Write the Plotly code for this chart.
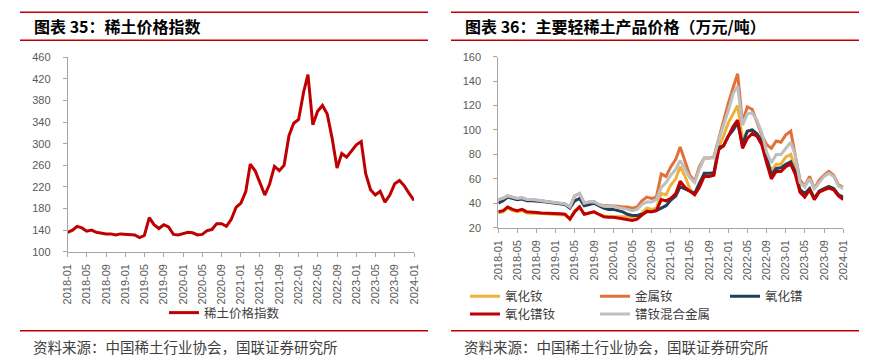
import plotly.graph_objects as go
import pandas as pd

# ---------------- data ----------------
months = pd.date_range("2018-01-01", "2024-01-01", freq="MS")
tick_dates = pd.date_range("2018-01-01", "2024-01-01", freq="4MS")

# 稀土价格指数 (monthly, 2018-01 .. 2024-01)
index_vals = [136, 140, 147, 144, 138, 140, 136, 134, 133, 133, 131, 133,
              132, 132, 131, 126, 130, 163, 150, 143, 150, 146, 132, 131,
              133, 136, 135, 131, 132, 139, 141, 152, 152, 147, 160, 182,
              190, 212, 262, 250, 228, 205, 225, 258, 250, 260, 315, 338,
              345, 395, 428, 335, 360, 371, 355, 310, 255, 282, 275, 286,
              298, 304, 245, 215, 205, 212, 192, 205, 226, 232, 222, 208, 195]

# 主要轻稀土产品价格（万元/吨）
nd_oxide = [32, 33, 36, 34, 33, 34, 32, 32, 32, 31.5, 31.5, 31,
            31, 31, 30.5, 27, 34, 37, 31, 32, 33, 31, 29.5, 29,
            29, 29, 29, 29, 28, 29, 32, 36, 35, 36, 48, 47,
            55, 60, 70, 62, 52, 47, 57, 63, 63, 64, 86, 95,
            106, 113, 120, 92, 99, 100, 96, 90, 75, 67, 72, 72,
            78, 80, 68, 52, 47, 52, 44, 50, 52, 54, 52, 47, 45]
nd_metal = [43, 44, 46, 45, 44, 44.5, 43, 43, 42.7, 42, 41.5, 41,
            40.5, 40, 39.5, 37, 46, 48, 40, 41, 41.3, 39, 38, 38,
            38, 37.5, 37, 37, 36, 37, 42, 45, 44, 45, 64, 62,
            70, 76, 86, 74, 63, 58, 70, 77, 77, 78, 93, 108,
            122, 135, 146, 106, 119, 117, 107, 96, 88, 85, 91, 90,
            96, 99, 80, 59, 54, 62, 52, 59, 63, 66, 63, 55, 53]
pr_oxide = [40, 42, 45, 44, 43, 43.5, 42, 42, 42, 41.5, 41, 40.5,
            40.5, 40, 39, 36, 42, 44, 38, 39, 40, 38, 36, 35,
            35, 34, 33, 31, 30, 30, 31, 33, 33, 34, 36, 38,
            42.7, 46, 53.6, 52, 50, 48, 56, 64.5, 64.5, 65, 86, 87,
            95, 100, 106, 88, 99, 100, 97, 91, 78, 63, 68.5, 69,
            72, 74, 66, 51, 48, 52, 44, 50, 52, 53.6, 52, 47, 45]
prnd_oxide = [33, 34, 37, 35, 34, 35, 33, 33, 32.5, 32, 32, 31.5,
              31.8, 31.5, 31, 27, 33, 37, 31, 32, 33, 31, 29, 28.5,
              28.6, 28, 27.5, 26.5, 26, 27, 30, 33.5, 33, 34, 43, 42,
              44, 48, 58, 53, 50, 47, 53, 62, 62, 63, 84, 87,
              95, 103, 108, 85, 93, 97, 95, 88, 73, 60, 66, 66,
              70, 72, 64, 49, 45, 51, 43, 49, 51, 52.5, 51, 46, 43]
prnd_metal = [43, 44, 46, 45, 44, 44.5, 43, 43, 42.7, 42, 41.5, 41,
              40.5, 40, 39.5, 37, 46, 48, 40, 41, 41.3, 39, 37.5, 37.3,
              37.3, 36.5, 36, 35, 34, 35, 39, 41, 41, 43, 53, 57,
              63, 68, 75, 68, 61, 57, 68, 77, 77, 77, 92, 103,
              116, 130, 136, 104, 113, 114, 108, 98, 82, 73, 80, 80,
              85, 90, 80, 57, 53.6, 60, 52, 57, 62, 64.5, 62, 54, 52]

left_yticks = [100, 140, 180, 220, 260, 300, 340, 380, 420, 460]
right_yticks = [20, 40, 60, 80, 100, 120, 140, 160]

series_right = [
    ("氧化钕", nd_oxide, "#EDB23A"),
    ("金属钕", nd_metal, "#E2703A"),
    ("氧化镨", pr_oxide, "#243F5C"),
    ("氧化镨钕", prnd_oxide, "#C00000"),
    ("镨钕混合金属", prnd_metal, "#BFBFBF"),
]

# ---------------- figure ----------------
OFF = 8                      # page body margin
W, H = 872 - OFF, 358 - OFF
def fx(x):
    return (x - OFF) / W
def fy(y):
    return 1 - (y - OFF) / H

RED = "#C00000"
AX = "#A6A6A6"
TXT = "#595959"
CJK = "Noto Sans CJK SC"
LAT = "Liberation Sans, Arial"
LEGFONT = dict(family=CJK, size=12.5, color="#404040")

fig = go.Figure()
fig.add_trace(go.Scatter(x=months, y=index_vals, name="稀土价格指数", mode="lines",
                         line=dict(color=RED, width=3), xaxis="x", yaxis="y",
                         legend="legend"))

# right legend: 3 columns x 2 rows, one small legend per entry
leg_pos = [(465, 296.7), (595, 296.7), (725, 296.7), (465, 314.3), (595, 314.3)]
legends = {}
for i, (name, vals, color) in enumerate(series_right):
    lname = "legend%d" % (i + 2)
    fig.add_trace(go.Scatter(x=months, y=vals, name=name, mode="lines",
                             line=dict(color=color, width=3), xaxis="x2", yaxis="y2",
                             legend=lname))
    lx, ly = leg_pos[i]
    legends[lname] = dict(orientation="h", x=fx(lx), xanchor="left", y=fy(ly),
                          yanchor="middle", font=LEGFONT, bgcolor="rgba(0,0,0,0)")

def xaxis(domain, anchor):
    return dict(domain=domain, anchor=anchor, range=[months[0], months[-1]],
                tickvals=tick_dates, tickformat="%Y-%m", tickangle=-90, showline=True,
                linecolor=AX, linewidth=1, ticks="outside", ticklen=4, tickcolor=AX,
                showgrid=False, zeroline=False, ticklabelstandoff=3,
                tickfont=dict(family=LAT, size=11, color=TXT))

def yaxis(domain, anchor, rng, tv):
    return dict(domain=domain, anchor=anchor, range=rng, tickvals=tv, showline=True,
                linecolor=AX, linewidth=1, ticks="outside", ticklen=4, tickcolor=AX,
                showgrid=False, zeroline=False, ticklabelstandoff=10,
                tickfont=dict(family=LAT, size=11, color=TXT))

fig.update_layout(
    width=W, height=H, margin=dict(l=0, r=0, t=0, b=0, autoexpand=False),
    paper_bgcolor="white", plot_bgcolor="white",
    xaxis=xaxis([fx(67.7), fx(414)], "y"),
    yaxis=yaxis([fy(251.7), fy(57.4)], "x", [100, 460], left_yticks),
    xaxis2=xaxis([fx(498.3), fx(843.3)], "y2"),
    yaxis2=yaxis([fy(227.7), fy(56.7)], "x2", [20, 160], right_yticks),
    legend=dict(orientation="h", x=fx(164), xanchor="left", y=fy(313), yanchor="middle",
                font=LEGFONT, bgcolor="rgba(0,0,0,0)"),
    showlegend=True,
    **legends,
)

shapes = []
for (x0, x1) in [(20, 428), (451, 859)]:
    for y in [12.3, 40.3, 330.7]:
        shapes.append(dict(type="line", xref="paper", yref="paper",
                           x0=fx(x0), x1=fx(x1), y0=fy(y), y1=fy(y),
                           line=dict(color=RED, width=1.5)))
fig.update_layout(shapes=shapes)

ann = [
    dict(text="<b>图表 35：稀土价格指数</b>", x=fx(32), y=fy(26.5)),
    dict(text="<b>图表 36：主要轻稀土产品价格（万元/吨）</b>", x=fx(462.7), y=fy(26.5)),
]
for a in ann:
    fig.add_annotation(text=a["text"], x=a["x"], y=a["y"], xref="paper", yref="paper",
                       xanchor="left", yanchor="middle", showarrow=False,
                       font=dict(family=CJK, size=16, color="#000000"))
for x0 in [30.7, 462]:
    fig.add_annotation(text="资料来源：中国稀土行业协会，国联证券研究所", x=fx(x0), y=fy(346),
                       xref="paper", yref="paper", xanchor="left", yanchor="middle",
                       showarrow=False, font=dict(family=CJK, size=14.5, color="#404040"))

fig.write_html("out.html")
